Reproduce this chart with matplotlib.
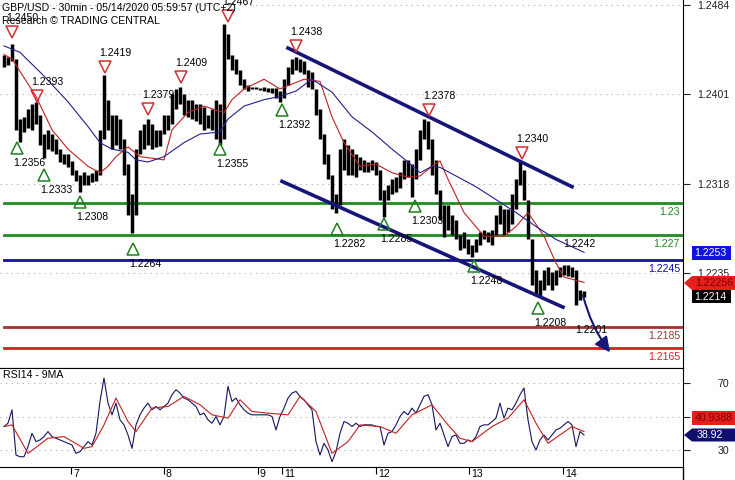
import matplotlib.pyplot as plt
from matplotlib.patches import Polygon
from matplotlib.lines import Line2D
import numpy as np

plt.rcParams['font.family'] = ['Liberation Sans', 'DejaVu Sans']

# prix 30min GBP/USD (une barre tous les ~2 chandeliers)
hi = [1.2438, 1.2436, 1.2448, 1.2434, 1.2378, 1.2380, 1.2387, 1.2392, 1.2394, 1.2382,
      1.2364, 1.2368, 1.2364, 1.2359, 1.2350, 1.2345, 1.2345, 1.2339, 1.2331, 1.2326,
      1.2329, 1.2326, 1.2328, 1.2331, 1.2368, 1.2419, 1.2396, 1.2382, 1.2382, 1.2378,
      1.2359, 1.2336, 1.2308, 1.2350, 1.2368, 1.2373, 1.2378, 1.2373, 1.2368, 1.2368,
      1.2382, 1.2382, 1.2401, 1.2406, 1.2408, 1.2401, 1.2396, 1.2396, 1.2392, 1.2392,
      1.2389, 1.2382, 1.2387, 1.2396, 1.2392, 1.2466, 1.2457, 1.2438, 1.2434, 1.2424,
      1.2415, 1.2410, 1.2408, 1.2408, 1.2407, 1.2408, 1.2407, 1.2407, 1.2407, 1.2404,
      1.2415, 1.2426, 1.2434, 1.2436, 1.2434, 1.2432, 1.2424, 1.2422, 1.2406, 1.2387,
      1.2364, 1.2345, 1.2326, 1.2308, 1.2350, 1.2359, 1.2354, 1.2350, 1.2345, 1.2343,
      1.2340, 1.2338, 1.2340, 1.2338, 1.2331, 1.2312, 1.2317, 1.2322, 1.2324, 1.2329,
      1.2340, 1.2340, 1.2336, 1.2350, 1.2368, 1.2378, 1.2376, 1.2359, 1.2340, 1.2312,
      1.2298, 1.2298, 1.2289, 1.2284, 1.2270, 1.2273, 1.2266, 1.2261, 1.2266, 1.2273,
      1.2275, 1.2273, 1.2275, 1.2289, 1.2298, 1.2294, 1.2294, 1.2308, 1.2322, 1.2338,
      1.2331, 1.2303, 1.2266, 1.2238, 1.2228, 1.2238, 1.2240, 1.2236, 1.2238, 1.2240,
      1.2242, 1.2242, 1.2240, 1.2238, 1.2219, 1.2218]
lo = [1.2426, 1.2428, 1.2432, 1.2368, 1.2357, 1.2366, 1.2370, 1.2368, 1.2373, 1.2354,
      1.2342, 1.2350, 1.2348, 1.2345, 1.2338, 1.2336, 1.2333, 1.2326, 1.2320, 1.2310,
      1.2317, 1.2317, 1.2319, 1.2320, 1.2326, 1.2359, 1.2368, 1.2350, 1.2354, 1.2350,
      1.2326, 1.2289, 1.2272, 1.2289, 1.2345, 1.2350, 1.2354, 1.2350, 1.2352, 1.2353,
      1.2364, 1.2368, 1.2373, 1.2387, 1.2392, 1.2382, 1.2380, 1.2378, 1.2376, 1.2373,
      1.2368, 1.2370, 1.2368, 1.2359, 1.2354, 1.2359, 1.2434, 1.2424, 1.2420, 1.2410,
      1.2406, 1.2404, 1.2406, 1.2406, 1.2405, 1.2404, 1.2403, 1.2402, 1.2398, 1.2394,
      1.2398, 1.2410, 1.2420, 1.2424, 1.2422, 1.2420, 1.2408, 1.2406, 1.2382, 1.2359,
      1.2336, 1.2322, 1.2294, 1.2291, 1.2298, 1.2331, 1.2326, 1.2326, 1.2324, 1.2331,
      1.2329, 1.2329, 1.2331, 1.2326, 1.2303, 1.2287, 1.2303, 1.2308, 1.2310, 1.2314,
      1.2322, 1.2324, 1.2305, 1.2322, 1.2340, 1.2359, 1.2350, 1.2326, 1.2308, 1.2284,
      1.2268, 1.2275, 1.2270, 1.2266, 1.2256, 1.2258, 1.2252, 1.2250, 1.2254, 1.2261,
      1.2266, 1.2264, 1.2261, 1.2270, 1.2280, 1.2270, 1.2273, 1.2280, 1.2294, 1.2317,
      1.2303, 1.2266, 1.2224, 1.2215, 1.2213, 1.2219, 1.2224, 1.2219, 1.2224, 1.2231,
      1.2233, 1.2232, 1.2231, 1.2205, 1.2210, 1.2212]

# moyennes mobiles (points lus)
ma_red_x = [0, 2, 8, 12, 16, 21, 24, 26, 28, 31, 34, 40, 42, 46, 50, 55, 57, 60, 65, 69,
            73, 75, 79, 82, 85, 89, 93, 97, 101, 104, 107, 109, 111, 115, 120, 125, 128,
            131, 135, 138, 140, 145]
ma_red = [1.2438, 1.2434, 1.2399, 1.2368, 1.2350, 1.2334, 1.2328, 1.2334, 1.2343, 1.2352,
          1.2343, 1.2340, 1.2368, 1.2384, 1.2390, 1.2384, 1.2396, 1.2406, 1.2415, 1.2406,
          1.2412, 1.2415, 1.2413, 1.2380, 1.2356, 1.2334, 1.2336, 1.2328, 1.2324, 1.2325,
          1.2334, 1.2339, 1.2322, 1.2291, 1.2269, 1.2269, 1.2278, 1.2291, 1.2269, 1.2244,
          1.2231, 1.2226]
ma_blue_x = [0, 4, 10, 16, 21, 24, 27, 31, 33, 36, 40, 45, 49, 54, 56, 60, 65, 69, 73, 77,
             82, 87, 92, 97, 101, 104, 107, 109, 113, 118, 123, 128, 133, 138, 145]
ma_blue = [1.2446, 1.2440, 1.2418, 1.2394, 1.2371, 1.2356, 1.2350, 1.2347, 1.2340, 1.2338,
           1.2343, 1.2356, 1.2364, 1.2366, 1.2378, 1.2390, 1.2396, 1.2399, 1.2404, 1.2415,
           1.2403, 1.2380, 1.2366, 1.2350, 1.2338, 1.2328, 1.2334, 1.2333, 1.2325, 1.2315,
           1.2303, 1.2291, 1.2278, 1.2266, 1.2254]

# RSI14 et sa moyenne 9
rsi = [44, 46, 54, 27, 26, 26, 32, 40, 35, 36, 38, 41, 38, 37, 36, 35, 34, 33, 28, 29,
       32, 35, 33, 40, 59, 73, 58, 51, 58, 48, 45, 39, 31, 45, 51, 55, 58, 54, 56, 54,
       56, 58, 63, 66, 64, 61, 60, 58, 56, 51, 52, 48, 46, 50, 45, 50, 68, 59, 61, 57,
       54, 52, 51, 51, 51, 51, 51, 50, 42, 50, 55, 61, 64, 65, 62, 60, 57, 54, 35, 27,
       34, 30, 23, 29, 40, 47, 46, 44, 46, 44, 45, 45, 45, 44, 44, 33, 40, 41, 45, 50,
       53, 51, 55, 52, 57, 62, 63, 57, 42, 46, 39, 32, 38, 39, 34, 34, 36, 35, 38, 44,
       45, 45, 47, 49, 58, 49, 55, 54, 58, 63, 67, 48, 35, 30, 36, 39, 36, 39, 42, 43,
       45, 47, 45, 32, 41, 39]
rsi_ma_x = [0, 2, 6, 11, 15, 20, 22, 25, 28, 31, 33, 37, 41, 45, 49, 52, 56, 59, 62, 66,
            71, 74, 78, 82, 86, 89, 94, 98, 102, 107, 111, 114, 117, 122, 126, 130, 133,
            136, 139, 142, 145]
rsi_ma = [44, 45, 28, 37, 38, 31, 32, 45, 61, 47, 41, 55, 56, 62, 57, 51, 49, 60, 53, 52,
          51, 62, 53, 28, 35, 45, 44, 40, 51, 57, 45, 37, 35, 44, 49, 60, 46, 34, 39, 44, 41]

# sommets / creux marqués
top_x = [2, 8.25, 25.25, 36, 44.25, 56, 73, 106.25, 129.5]
top_y = [1.2459, 1.2399, 1.2426, 1.2387, 1.2417, 1.2474, 1.2446, 1.2386, 1.2346]
top_txt = ['1.2450', '1.2393', '1.2419', '1.2379', '1.2409', '1.2467', '1.2438', '1.2378', '1.2340']
bot_x = [3.25, 10, 19, 32.25, 54, 69.5, 83.25, 95, 102.75, 117.5, 133.5]
bot_y = [1.2351, 1.2326, 1.2301, 1.2257, 1.2350, 1.2386, 1.2276, 1.2280, 1.2297, 1.2241, 1.2202]
bot_txt = ['1.2356', '1.2333', '1.2308', '1.2264', '1.2355', '1.2392', '1.2282', '1.2285',
           '1.2303', '1.2248', '1.2208']

# niveaux
niveaux = [1.2300, 1.2270, 1.2247, 1.2185, 1.2165]
niveaux_txt = ['1.23', '1.227', '1.2245', '1.2185', '1.2165']
niveaux_cor = ['#1e8c1e', '#1e8c1e', '#1010a0', '#a83232', '#d81e1e']

# canal
canal_sup_x = [71, 142]
canal_sup_y = [1.2444, 1.2315]
canal_inf_x = [69.5, 139.75]
canal_inf_y = [1.2320, 1.2203]

dias_x = [16.75, 40, 63.5, 69.5, 93, 116.25, 139.75]
dias = ['7', '8', '9', '11', '12', '13', '14']
yticks = [1.2484, 1.2401, 1.2318, 1.2235]

W, H = 735, 480
def fx(x): return x / W
def fy(y): return 1 - y / H

fig = plt.figure(figsize=(7.35, 4.8), dpi=100)
ax = fig.add_axes([0, fy(368), fx(683), 368 / H])
ax2 = fig.add_axes([0, fy(467), fx(683), 99 / H])

idx = np.arange(len(hi))
fs = 7.6
navy = '#16167a'

# --- painel de preço
ax.set_xlim(-1, 169.75)
ax.set_ylim(1.21464, 1.24887)
ax.set_yticks(yticks)
ax.set_yticklabels(['%.4f' % v for v in yticks])
ax.yaxis.tick_right()
ax.tick_params(axis='y', direction='out', length=5, pad=5, labelsize=fs, colors='#222222')
ax.set_xticks([])
ax.grid(axis='y', linestyle=(0, (1, 4)), color='#aaaaaa', lw=0.8)
for s in ['top', 'left']:
    ax.spines[s].set_visible(False)

ax.vlines(idx, lo, hi, color='black', lw=2.5, zorder=3)
ax.plot(ma_red_x, ma_red, color='#c02020', lw=0.8, zorder=4)
ax.plot(ma_blue_x, ma_blue, color='#202090', lw=0.8, zorder=4)

for v, c in zip(niveaux, niveaux_cor):
    ax.plot([0, 169.75], [v, v], color=c, lw=2, zorder=2)
for v, t, c in zip(niveaux, niveaux_txt, niveaux_cor):
    ax.annotate(t, (1, v), xycoords=('axes fraction', 'data'), xytext=(-3, -9),
                textcoords='offset pixels', ha='right', va='center', fontsize=fs, color=c)

ax.plot(canal_sup_x, canal_sup_y, color=navy, lw=2.6, zorder=5)
ax.plot(canal_inf_x, canal_inf_y, color=navy, lw=2.6, zorder=5)

ax.plot(top_x, top_y, 'v', ms=9, mfc='none', mec='#d03030', mew=1.1, zorder=6)
ax.plot(bot_x, bot_y, '^', ms=9, mfc='none', mec='#208020', mew=1.1, zorder=6)
for x, y, t in zip(top_x, top_y, top_txt):
    ax.annotate(t, (x, y), xytext=(-6, 14), textcoords='offset pixels',
                ha='left', va='center', fontsize=fs, zorder=7)
for x, y, t in zip(bot_x, bot_y, bot_txt):
    ax.annotate(t, (x, y), xytext=(-4, -15), textcoords='offset pixels',
                ha='left', va='center', fontsize=fs, zorder=7)
ax.text(139.75, 1.2262, '1.2242', fontsize=fs, va='center', zorder=7)
ax.text(142.75, 1.2182, '1.2201', fontsize=fs, va='center', zorder=7)

ax.annotate('', xy=(151.5, 1.2161), xytext=(144.75, 1.2214),
            arrowprops=dict(arrowstyle='-|>,head_length=0.9,head_width=0.45', color=navy,
                            lw=1.5, shrinkA=0, shrinkB=0, connectionstyle='arc3,rad=0.1'),
            zorder=8)

# --- painel RSI
ax2.set_xlim(-1, 169.75)
ax2.set_ylim(19.85, 78.96)
ax2.set_yticks([70, 50, 30])
ax2.set_yticklabels(['70', '', '30'])
ax2.yaxis.tick_right()
ax2.tick_params(axis='y', direction='out', length=5, pad=20, labelsize=fs, colors='#222222')
ax2.grid(axis='y', linestyle=(0, (1, 4)), color='#aaaaaa', lw=0.8)
ax2.spines['left'].set_visible(False)
ax2.set_xticks(dias_x)
ax2.set_xticklabels([''] * len(dias))
ax2.tick_params(axis='x', direction='out', length=5)
for x, t in zip(dias_x, dias):
    ax2.annotate(t, (x, 0), xycoords=('data', 'axes fraction'), xytext=(2, -7),
                 textcoords='offset pixels', ha='left', va='center', fontsize=fs)
ax2.plot(idx, rsi, color='#151560', lw=0.8)
ax2.plot(rsi_ma_x, rsi_ma, color='#c02020', lw=0.8)
ax2.text(0.004, 0.93, 'RSI14 - 9MA', transform=ax2.transAxes, fontsize=fs, va='center')

fig.add_artist(Line2D([fx(683), fx(683)], [fy(467), 0], color='black', lw=1))

# títulos
fig.text(fx(2), fy(8), 'GBP/USD - 30min - 05/14/2020 05:59:57 (UTC+2)', fontsize=fs, va='center')
fig.text(fx(2), fy(21), 'Research \u00a9 TRADING CENTRAL', fontsize=fs, va='center')

# caixas de valores à direita
def tag(y, h, x0, cor):
    pts = [(fx(684), fy(y)), (fx(x0), fy(y - h / 2)), (fx(735), fy(y - h / 2)),
           (fx(735), fy(y + h / 2)), (fx(x0), fy(y + h / 2))]
    fig.add_artist(Polygon(pts, closed=True, transform=fig.transFigure, fc=cor, ec='none'))

fig.add_artist(Polygon([(fx(692), fy(246)), (fx(731), fy(246)), (fx(731), fy(260)), (fx(692), fy(260))],
                       transform=fig.transFigure, fc='#1212e0', ec='none'))
fig.text(fx(694), fy(253), '1.2253', color='white', fontsize=fs, va='center')
tag(283, 14, 692, '#e61e1e')
fig.text(fx(695), fy(283), '1.22256', color='#7a0000', fontsize=fs, va='center')
fig.add_artist(Polygon([(fx(692), fy(290)), (fx(731), fy(290)), (fx(731), fy(303)), (fx(692), fy(303))],
                       transform=fig.transFigure, fc='black', ec='none'))
fig.text(fx(694), fy(297), '1.2214', color='white', fontsize=fs, va='center')

fig.add_artist(Polygon([(fx(692), fy(411)), (fx(735), fy(411)), (fx(735), fy(425)), (fx(692), fy(425))],
                       transform=fig.transFigure, fc='#e61e1e', ec='none'))
fig.text(fx(695), fy(418), '40.9388', color='#7a0000', fontsize=fs, va='center')
tag(435, 13, 692, '#10106e')
fig.text(fx(697), fy(435), '38.92', color='white', fontsize=fs, va='center')

plt.savefig('out.png', dpi=100)
